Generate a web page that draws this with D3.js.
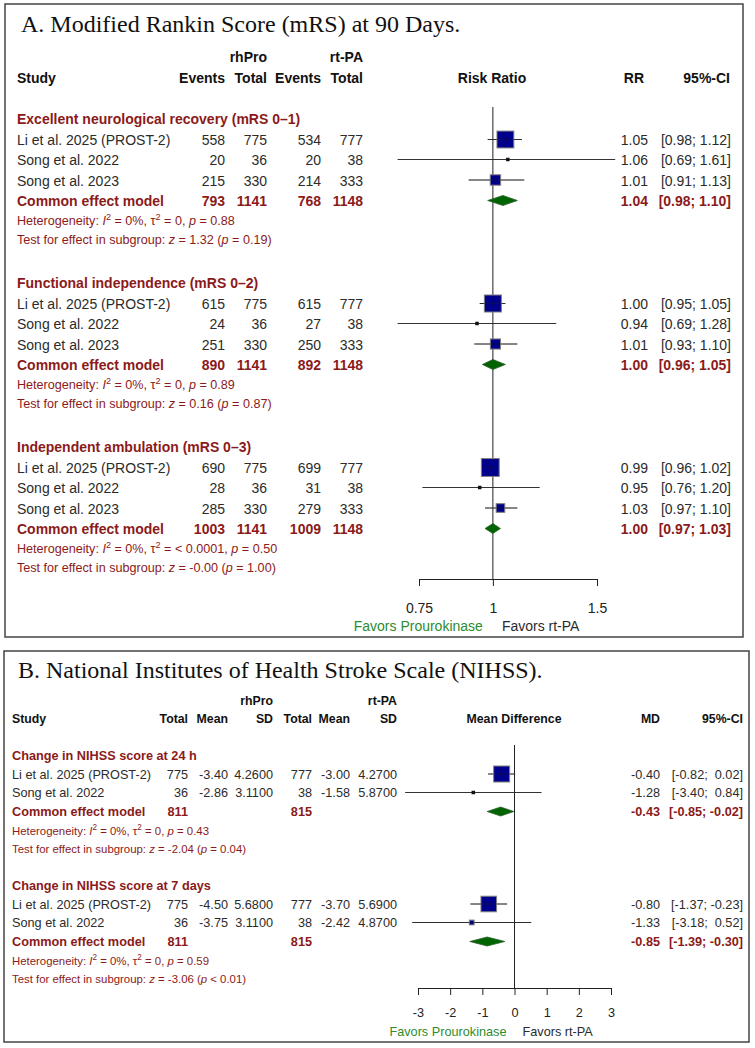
<!DOCTYPE html>
<html><head><meta charset="utf-8">
<script src="https://cdn.jsdelivr.net/npm/d3@7"></script>
<style>
body{margin:0;background:#fff}
svg{display:block}
text{white-space:pre}
</style>
</head><body>
<svg id="chart" width="755" height="1048" font-family="'Liberation Sans', Arial, sans-serif"></svg>
<script>
// ---------------- DATA: Panel A (mRS, Risk Ratio) ----------------
const mrsTitle = "A. Modified Rankin Score (mRS) at 90 Days.";
const mrsSubgroups = ["Excellent neurological recovery (mRS 0–1)", "Functional independence (mRS 0–2)", "Independent ambulation (mRS 0–3)"];
const mrsStudies = ["Li et al. 2025 (PROST-2)", "Song et al. 2022", "Song et al. 2023"];
const mrsProEvents = [[558, 20, 215], [615, 24, 251], [690, 28, 285]];
const mrsProTotal = [775, 36, 330];
const mrsTpaEvents = [[534, 20, 214], [615, 27, 250], [699, 31, 279]];
const mrsTpaTotal = [777, 38, 333];
const mrsRR = [[1.05, 1.06, 1.01], [1.00, 0.94, 1.01], [0.99, 0.95, 1.03]];
const mrsLo = [[0.98, 0.69, 0.91], [0.95, 0.69, 0.93], [0.96, 0.76, 0.97]];
const mrsHi = [[1.12, 1.61, 1.13], [1.05, 1.28, 1.10], [1.02, 1.20, 1.10]];
const mrsPooledRR = [1.04, 1.00, 1.00];
const mrsPooledLo = [0.98, 0.96, 0.97];
const mrsPooledHi = [1.10, 1.05, 1.03];
const mrsPooledProEvents = [793, 890, 1003];
const mrsPooledTpaEvents = [768, 892, 1009];
const mrsPooledProTotal = 1141;
const mrsPooledTpaTotal = 1148;
const mrsHetI2 = ["0%", "0%", "0%"];
const mrsHetTau2 = ["0", "0", "< 0.0001"];
const mrsHetP = ["0.88", "0.89", "0.50"];
const mrsTestZ = ["1.32", "0.16", "-0.00"];
const mrsTestP = ["= 0.19", "= 0.87", "= 1.00"];
const rrTicks = [0.75, 1, 1.5];

// ---------------- DATA: Panel B (NIHSS, Mean Difference) ----------------
const nihssTitle = "B. National Institutes of Health Stroke Scale (NIHSS).";
const nihssSubgroups = ["Change in NIHSS score at 24 h", "Change in NIHSS score at 7 days"];
const nihssStudies = ["Li et al. 2025 (PROST-2)", "Song et al. 2022"];
const nihssProTotal = [775, 36];
const nihssProMean = [[-3.40, -2.86], [-4.50, -3.75]];
const nihssProSD = [[4.26, 3.11], [5.68, 3.11]];
const nihssTpaTotal = [777, 38];
const nihssTpaMean = [[-3.00, -1.58], [-3.70, -2.42]];
const nihssTpaSD = [[4.27, 5.87], [5.69, 4.87]];
const nihssMD = [[-0.40, -1.28], [-0.80, -1.33]];
const nihssLo = [[-0.82, -3.40], [-1.37, -3.18]];
const nihssHi = [[0.02, 0.84], [-0.23, 0.52]];
const nihssPooledMD = [-0.43, -0.85];
const nihssPooledLo = [-0.85, -1.39];
const nihssPooledHi = [-0.02, -0.30];
const nihssPooledProTotal = 811;
const nihssPooledTpaTotal = 815;
const nihssHetI2 = ["0%", "0%"];
const nihssHetTau2 = ["0", "0"];
const nihssHetP = ["0.43", "0.59"];
const nihssTestZ = ["-2.04", "-3.06"];
const nihssTestP = ["= 0.04", "< 0.01"];
const mdTicks = [-3, -2, -1, 0, 1, 2, 3];

// ---------------- DRAWING ----------------
const svg = d3.select("#chart");
const RED = "#8b1a1a", DARK = "#2b2b2b", BLACK = "#111", GREEN = "#2e8b2e";
const SANS = "'Liberation Sans', Arial, sans-serif";
const SERIF = "'Liberation Serif', 'Times New Roman', serif";

function txt(x, y, s, o = {}) {
  const t = svg.append("text").attr("x", x).attr("y", y).text(s)
    .attr("font-size", o.size || 14).attr("fill", o.color || DARK)
    .attr("text-anchor", o.anchor || "start")
    .style("font-family", o.family || SANS);
  if (o.bold) t.attr("font-weight", "bold");
  return t;
}
function rich(x, y, parts, size, color) {
  const t = svg.append("text").attr("x", x).attr("y", y).attr("font-size", size).attr("fill", color)
    .style("font-family", SANS);
  let up = false;
  parts.forEach(p => {
    const ts = t.append("tspan").text(p.s);
    if (p.it) ts.attr("font-style", "italic");
    if (p.sup) { ts.attr("dy", -size * 0.42).attr("font-size", size * 0.72); up = true; }
    else if (up) { ts.attr("dy", size * 0.42); up = false; }
  });
}
function hetParts(i2, tau, p) {
  return [{s: "Heterogeneity: "}, {s: "I", it: true}, {s: "2", sup: true}, {s: " = " + i2 + ", "},
          {s: "τ"}, {s: "2", sup: true}, {s: " = " + tau + ", "}, {s: "p", it: true}, {s: " = " + p}];
}
function testParts(z, p) {
  return [{s: "Test for effect in subgroup: "}, {s: "z", it: true}, {s: " = " + z + " ("},
          {s: "p", it: true}, {s: " " + p + ")"}];
}
function box(x, y, w, h) {
  svg.append("rect").attr("x", x).attr("y", y).attr("width", w).attr("height", h)
    .attr("fill", "none").attr("stroke", "#444").attr("stroke-width", 1.5);
}
function studyMark(xs, cy, est, lo, hi, side) {
  svg.append("line").attr("x1", xs(lo)).attr("x2", xs(hi)).attr("y1", cy).attr("y2", cy)
    .attr("stroke", "#333").attr("stroke-width", 1);
  if (side < 4) {
    svg.append("rect").attr("x", xs(est) - 1.75).attr("y", cy - 1.75)
      .attr("width", 3.5).attr("height", 3.5).attr("fill", "#111");
    return;
  }
  svg.append("rect").attr("x", xs(est) - side / 2).attr("y", cy - side / 2)
    .attr("width", side).attr("height", side)
    .attr("fill", "#00008b").attr("stroke", "#808080").attr("stroke-width", 1);
  svg.append("line").attr("x1", xs(lo)).attr("x2", xs(hi)).attr("y1", cy).attr("y2", cy)
    .attr("stroke", "#222").attr("stroke-width", 0.6).attr("opacity", 0.5);
  svg.append("rect").attr("x", xs(est) - 1).attr("y", cy - 1).attr("width", 2).attr("height", 2)
    .attr("fill", "#111").attr("opacity", 0.6);
}
function diamond(xs, cy, est, lo, hi, h) {
  const pts = [[xs(lo), cy], [xs(est), cy - h / 2], [xs(hi), cy], [xs(est), cy + h / 2]];
  svg.append("path").attr("d", d3.line()(pts) + "Z")
    .attr("fill", "#006400").attr("stroke", "#2f5f2f").attr("stroke-width", 0.8);
}
function axis(xs, ticks, y, fs, pad) {
  const ax = d3.axisBottom(xs).tickValues(ticks).tickFormat(d => String(d))
    .tickSize(7).tickSizeOuter(0).tickPadding(pad);
  const g = svg.append("g").attr("transform", `translate(0,${y})`).call(ax)
    .attr("font-family", SANS).attr("font-size", fs);
  g.select(".domain").attr("stroke", "#222");
  g.selectAll(".tick line").attr("stroke", "#222");
  g.selectAll(".tick text").attr("fill", "#222").style("font-family", SANS);
}

// ===== Panel A =====
box(5, 4, 738, 633);
txt(21, 32, mrsTitle, {size: 24, family: SERIF, color: BLACK});
const xA = d3.scaleLog().domain([0.75, 1.5]).range([419, 597]);
const hA = {size: 14, bold: true, color: BLACK};
txt(267, 62, "rhPro", {...hA, anchor: "end"});
txt(363, 62, "rt-PA", {...hA, anchor: "end"});
txt(17, 83, "Study", hA);
txt(225, 83, "Events", {...hA, anchor: "end"});
txt(267, 83, "Total", {...hA, anchor: "end"});
txt(321, 83, "Events", {...hA, anchor: "end"});
txt(363, 83, "Total", {...hA, anchor: "end"});
txt(492, 83, "Risk Ratio", {...hA, anchor: "middle"});
txt(644, 83, "RR", {...hA, anchor: "end"});
txt(730, 83, "95%-CI", {...hA, anchor: "end"});

svg.append("line").attr("x1", xA(1)).attr("x2", xA(1)).attr("y1", 107).attr("y2", 579)
  .attr("stroke", "#222").attr("stroke-width", 1);

const offA = [0, 21, 41, 61.5, 82, 101, 120];
mrsSubgroups.forEach((sg, i) => {
  const y0 = 124 + i * 164;
  txt(17, y0, sg, {size: 14, bold: true, color: RED});
  const w = mrsLo[i].map((lo, j) => { const se = (Math.log(mrsHi[i][j]) - Math.log(lo)) / 3.92; return 1 / (se * se); });
  const wsum = d3.sum(w);
  mrsStudies.forEach((st, j) => {
    const y = y0 + offA[j + 1];
    txt(17, y, st);
    txt(225, y, String(mrsProEvents[i][j]), {anchor: "end"});
    txt(267, y, String(mrsProTotal[j]), {anchor: "end"});
    txt(321, y, String(mrsTpaEvents[i][j]), {anchor: "end"});
    txt(363, y, String(mrsTpaTotal[j]), {anchor: "end"});
    studyMark(xA, y - 5.5, mrsRR[i][j], mrsLo[i][j], mrsHi[i][j], 20 * Math.sqrt(w[j] / wsum));
    txt(648, y, mrsRR[i][j].toFixed(2), {anchor: "end"});
    txt(731, y, "[" + mrsLo[i][j].toFixed(2) + "; " + mrsHi[i][j].toFixed(2) + "]", {anchor: "end"});
  });
  const yc = y0 + offA[4];
  const rb = {size: 14, bold: true, color: RED, anchor: "end"};
  txt(17, yc, "Common effect model", {size: 14, bold: true, color: RED});
  txt(225, yc, String(mrsPooledProEvents[i]), rb);
  txt(267, yc, String(mrsPooledProTotal), rb);
  txt(321, yc, String(mrsPooledTpaEvents[i]), rb);
  txt(363, yc, String(mrsPooledTpaTotal), rb);
  diamond(xA, yc - 5.5, mrsPooledRR[i], mrsPooledLo[i], mrsPooledHi[i], 10);
  txt(648, yc, mrsPooledRR[i].toFixed(2), rb);
  txt(731, yc, "[" + mrsPooledLo[i].toFixed(2) + "; " + mrsPooledHi[i].toFixed(2) + "]", rb);
  rich(17, y0 + offA[5], hetParts(mrsHetI2[i], mrsHetTau2[i], mrsHetP[i]), 12.6, RED);
  rich(17, y0 + offA[6], testParts(mrsTestZ[i], mrsTestP[i]), 12.6, RED);
});
axis(xA, rrTicks, 579, 14, 17);
txt(xA(1) - 10, 631, "Favors Prourokinase", {size: 14, color: GREEN, anchor: "end"});
txt(xA(1) + 9, 631, "Favors rt-PA", {size: 14, color: DARK});

// ===== Panel B =====
box(4, 651, 745, 391);
txt(18, 678, nihssTitle, {size: 24, family: SERIF, color: BLACK});
const xB = d3.scaleLinear().domain([-3, 3]).range([418, 611]);
const hB = {size: 12.3, bold: true, color: BLACK};
txt(273, 705, "rhPro", {...hB, anchor: "end"});
txt(397, 705, "rt-PA", {...hB, anchor: "end"});
txt(12, 723, "Study", hB);
[["Total", 188], ["Mean", 228], ["SD", 273], ["Total", 312], ["Mean", 350], ["SD", 397]]
  .forEach(([s, x]) => txt(x, 723, s, {...hB, anchor: "end"}));
txt(514, 723, "Mean Difference", {...hB, anchor: "middle"});
txt(660, 723, "MD", {...hB, anchor: "end"});
txt(743, 723, "95%-CI", {...hB, anchor: "end"});

svg.append("line").attr("x1", xB(0)).attr("x2", xB(0)).attr("y1", 745).attr("y2", 988)
  .attr("stroke", "#222").attr("stroke-width", 1);

const fmtHi = v => (v < 0 ? "" : " ") + v.toFixed(2);
const offB = [0, 18.5, 37, 56, 74.5, 92.5];
const fB = 12.7;
nihssSubgroups.forEach((sg, i) => {
  const y0 = 760 + i * 130;
  txt(12, y0, sg, {size: fB, bold: true, color: RED});
  const w = nihssLo[i].map((lo, j) => { const se = (nihssHi[i][j] - lo) / 3.92; return 1 / (se * se); });
  const wsum = d3.sum(w);
  nihssStudies.forEach((st, j) => {
    const y = y0 + offB[j + 1];
    const o = {size: fB, anchor: "end"};
    txt(12, y, st, {size: fB});
    txt(188, y, String(nihssProTotal[j]), o);
    txt(228, y, nihssProMean[i][j].toFixed(2), o);
    txt(273, y, nihssProSD[i][j].toFixed(4), o);
    txt(312, y, String(nihssTpaTotal[j]), o);
    txt(350, y, nihssTpaMean[i][j].toFixed(2), o);
    txt(397, y, nihssTpaSD[i][j].toFixed(4), o);
    studyMark(xB, y - 4.5, nihssMD[i][j], nihssLo[i][j], nihssHi[i][j], 16.3 * Math.sqrt(w[j] / wsum));
    txt(660, y, nihssMD[i][j].toFixed(2), o);
    txt(743, y, "[" + nihssLo[i][j].toFixed(2) + "; " + fmtHi(nihssHi[i][j]) + "]", o);
  });
  const yc = y0 + offB[3];
  const rb = {size: fB, bold: true, color: RED, anchor: "end"};
  txt(12, yc, "Common effect model", {size: fB, bold: true, color: RED});
  txt(188, yc, String(nihssPooledProTotal), rb);
  txt(312, yc, String(nihssPooledTpaTotal), rb);
  diamond(xB, yc - 4.5, nihssPooledMD[i], nihssPooledLo[i], nihssPooledHi[i], 9);
  txt(660, yc, nihssPooledMD[i].toFixed(2), rb);
  txt(743, yc, "[" + nihssPooledLo[i].toFixed(2) + "; " + fmtHi(nihssPooledHi[i]) + "]", rb);
  rich(12, y0 + offB[4], hetParts(nihssHetI2[i], nihssHetTau2[i], nihssHetP[i]), 11.4, RED);
  rich(12, y0 + offB[5], testParts(nihssTestZ[i], nihssTestP[i]), 11.4, RED);
});
axis(xB, mdTicks, 988, fB, 12.5);
txt(xB(0) - 8, 1036, "Favors Prourokinase", {size: fB, color: GREEN, anchor: "end"});
txt(xB(0) + 8, 1036, "Favors rt-PA", {size: fB, color: DARK});
</script>
</body></html>
